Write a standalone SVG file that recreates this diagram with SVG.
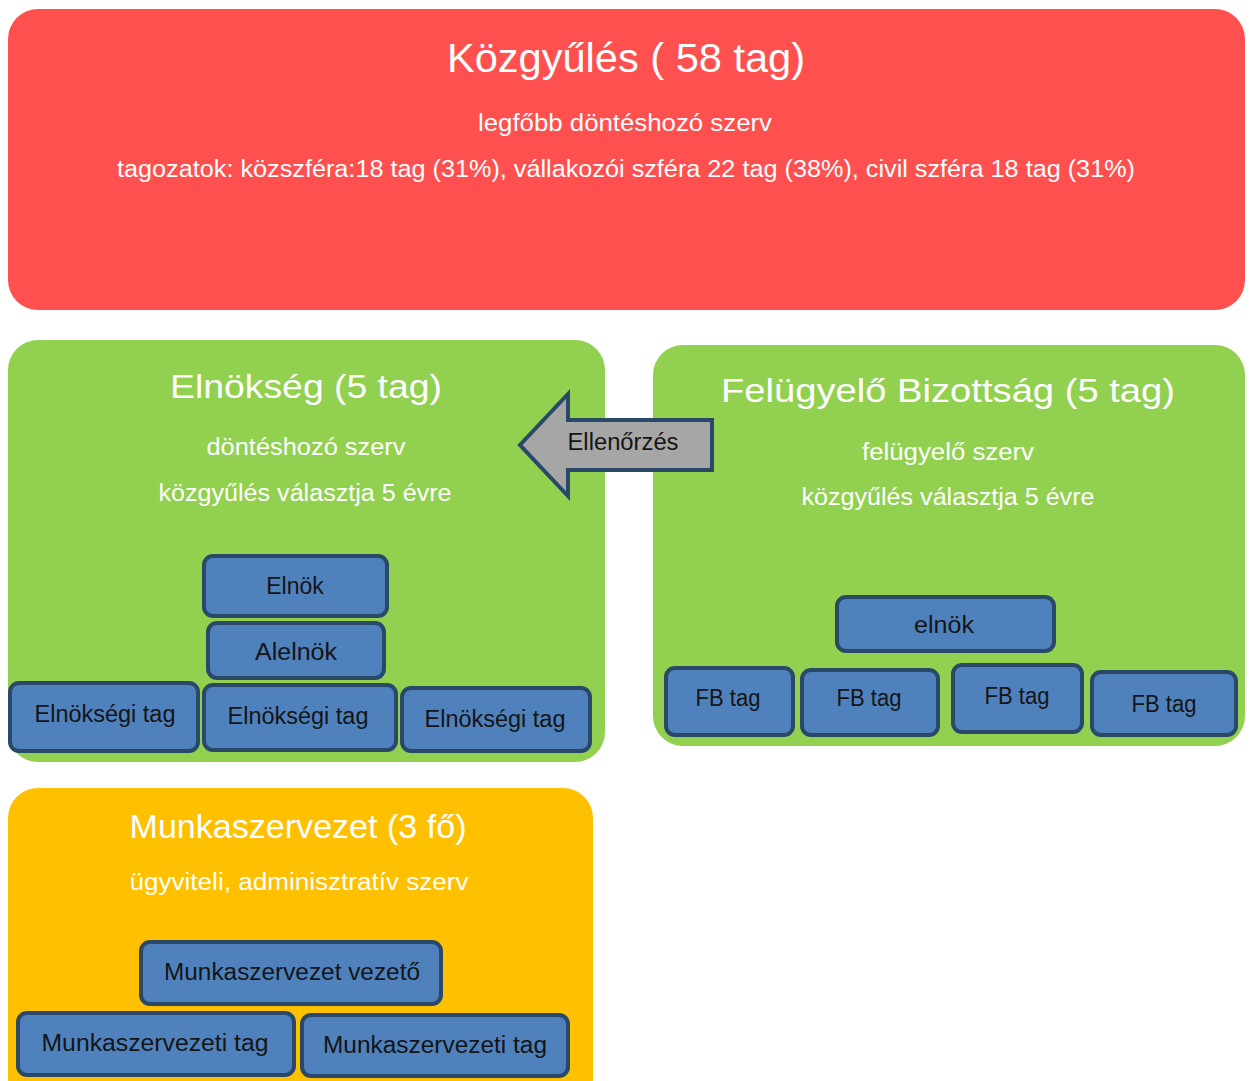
<svg xmlns="http://www.w3.org/2000/svg" width="1250" height="1081" viewBox="0 0 1250 1081">
<style>
text{font-family:"Liberation Sans",Arial,sans-serif;text-anchor:middle}
.w{fill:#ffffff}
.t1{font-size:40px}
.t2{font-size:34px}
.s{font-size:23px}
.b{fill:#4f81bd;stroke:#2a4868;stroke-width:4}
.bl{font-size:23px;fill:#151515}
</style>
<rect width="1250" height="1081" fill="#ffffff"/>
<g id="kozgyules">
<rect x="8" y="9" width="1237" height="301" rx="30" fill="#ff5050"/>
<text class="w t1" x="626" y="72" textLength="358" lengthAdjust="spacingAndGlyphs">Közgyűlés ( 58 tag)</text>
<text class="w s" x="625" y="131" textLength="294" lengthAdjust="spacingAndGlyphs">legfőbb döntéshozó  szerv</text>
<text class="w s" x="626" y="177" textLength="1018" lengthAdjust="spacingAndGlyphs">tagozatok: közszféra:18 tag (31%), vállakozói szféra 22 tag (38%), civil szféra 18 tag (31%)</text>
</g>
<g id="elnokseg">
<rect x="8" y="340" width="597" height="422" rx="30" fill="#92d050"/>
<text class="w t2" x="306" y="398" textLength="272" lengthAdjust="spacingAndGlyphs">Elnökség (5 tag)</text>
<text class="w s" x="306" y="455" textLength="199" lengthAdjust="spacingAndGlyphs">döntéshozó szerv</text>
<text class="w s" x="305" y="501" textLength="293" lengthAdjust="spacingAndGlyphs">közgyűlés választja 5 évre</text>
</g>
<g id="fb">
<rect x="653" y="345" width="592" height="401" rx="30" fill="#92d050"/>
<text class="w t2" x="948" y="402" textLength="454" lengthAdjust="spacingAndGlyphs">Felügyelő Bizottság (5 tag)</text>
<text class="w s" x="948" y="460" textLength="172" lengthAdjust="spacingAndGlyphs">felügyelő szerv</text>
<text class="w s" x="948" y="505" textLength="293" lengthAdjust="spacingAndGlyphs">közgyűlés választja 5 évre</text>
</g>
<g id="munkaszervezet">
<rect x="8" y="788" width="585" height="320" rx="30" fill="#ffc000"/>
<text class="w t2" x="298" y="838" textLength="337" lengthAdjust="spacingAndGlyphs">Munkaszervezet (3 fő)</text>
<text class="w s" x="299" y="890" textLength="339" lengthAdjust="spacingAndGlyphs">ügyviteli, adminisztratív szerv</text>
</g>
<g id="elnok"><rect class="b" x="204" y="556" width="183" height="60" rx="9"/><text class="bl" x="295" y="594">Elnök</text></g>
<g id="alelnok"><rect class="b" x="208" y="623" width="176" height="55" rx="9"/><text class="bl" x="296" y="660" textLength="82" lengthAdjust="spacingAndGlyphs">Alelnök</text></g>
<g id="etag1"><rect class="b" x="10" y="683" width="188" height="68" rx="9"/><text class="bl" x="105" y="722" textLength="141" lengthAdjust="spacingAndGlyphs">Elnökségi tag</text></g>
<g id="etag2"><rect class="b" x="204" y="685" width="192" height="65" rx="9"/><text class="bl" x="298" y="724" textLength="141" lengthAdjust="spacingAndGlyphs">Elnökségi tag</text></g>
<g id="etag3"><rect class="b" x="402" y="688" width="188" height="63" rx="9"/><text class="bl" x="495" y="727" textLength="141" lengthAdjust="spacingAndGlyphs">Elnökségi tag</text></g>
<g id="fbelnok"><rect class="b" x="837" y="597" width="217" height="54" rx="9"/><text class="bl" x="944" y="633" textLength="60" lengthAdjust="spacingAndGlyphs">elnök</text></g>
<g id="fbtag1"><rect class="b" x="666" y="668" width="127" height="67" rx="9"/><text class="bl" x="728" y="706" textLength="65" lengthAdjust="spacingAndGlyphs">FB tag</text></g>
<g id="fbtag2"><rect class="b" x="802" y="670" width="136" height="65" rx="9"/><text class="bl" x="869" y="706" textLength="65" lengthAdjust="spacingAndGlyphs">FB tag</text></g>
<g id="fbtag3"><rect class="b" x="953" y="665" width="129" height="67" rx="9"/><text class="bl" x="1017" y="704" textLength="65" lengthAdjust="spacingAndGlyphs">FB tag</text></g>
<g id="fbtag4"><rect class="b" x="1092" y="672" width="144" height="63" rx="9"/><text class="bl" x="1164" y="712" textLength="65" lengthAdjust="spacingAndGlyphs">FB tag</text></g>
<g id="mvezeto"><rect class="b" x="141" y="942" width="300" height="62" rx="9"/><text class="bl" x="292" y="980" textLength="256" lengthAdjust="spacingAndGlyphs">Munkaszervezet vezető</text></g>
<g id="mtag1"><rect class="b" x="18" y="1013" width="276" height="62" rx="9"/><text class="bl" x="155" y="1051" textLength="227" lengthAdjust="spacingAndGlyphs">Munkaszervezeti tag</text></g>
<g id="mtag2"><rect class="b" x="302" y="1015" width="266" height="61" rx="9"/><text class="bl" x="435" y="1053" textLength="224" lengthAdjust="spacingAndGlyphs">Munkaszervezeti tag</text></g>
<g id="connectors">
<path d="M712 420 L568 420 L568 394 L520 445 L568 496 L568 470 L712 470 Z" fill="#a6a6a6" stroke="#2a4868" stroke-width="4" stroke-linejoin="miter"/>
<text class="bl" x="623" y="450" textLength="111" lengthAdjust="spacingAndGlyphs">Ellenőrzés</text>
</g>
</svg>
